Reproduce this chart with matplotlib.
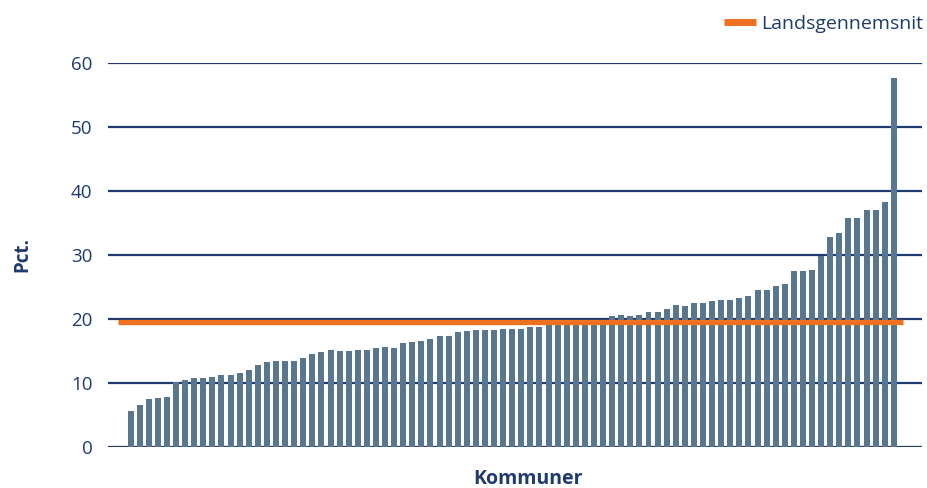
import matplotlib.pyplot as plt
import numpy as np

# share per municipality (pct.), sorted ascending
values = [5.6, 6.6, 7.5, 7.7, 7.8, 10.2, 10.5, 10.8, 10.8, 10.9, 11.25,
          11.25, 11.6, 12.0, 12.8, 13.3, 13.4, 13.4, 13.4, 13.9, 14.5, 14.8,
          15.2, 15.0, 15.0, 15.2, 15.2, 15.5, 15.6, 15.5, 16.25, 16.4, 16.6,
          16.9, 17.3, 17.3, 18.0, 18.1, 18.3, 18.3, 18.3, 18.4, 18.4, 18.4,
          18.75, 18.75, 19.2, 19.3, 19.1, 19.1, 19.3, 19.1, 19.3, 20.5, 20.6,
          20.5, 20.6, 21.1, 21.1, 21.6, 22.2, 22.0, 22.5, 22.5, 22.8, 23.0,
          23.0, 23.3, 23.6, 24.5, 24.5, 25.2, 25.5, 27.5, 27.5, 27.7, 29.8,
          32.8, 33.4, 35.8, 35.8, 37.0, 37.0, 38.3, 57.7]
national_avg = 19.6
yticks = [0, 10, 20, 30, 40, 50, 60]

navy = "#1f3a6e"
bar_col = "#58768e"
orange = "#f07022"

plt.rcParams['font.family'] = ['Open Sans', 'DejaVu Sans']

fig = plt.figure(figsize=(9.28, 4.88), dpi=100)
ax = fig.add_axes([0.116, 0.084, 0.8775, 0.787])

x = np.arange(len(values))
for t in yticks:
    ax.axhline(t, color=navy, lw=1.6, zorder=1)
ax.bar(x, values, width=0.66, color=bar_col, zorder=2)
ax.plot([-1.4, len(values)], [national_avg, national_avg], color=orange,
        lw=3.8, solid_capstyle='butt', zorder=3, label="Landsgennemsnit")

ax.set_xlim(-2.53, 87.1)
ax.set_ylim(0, 60)
ax.set_yticks(yticks)
ax.set_xticks([])
ax.tick_params(axis='y', length=0, pad=11, labelsize=13.5, labelcolor=navy)
for s in ax.spines.values():
    s.set_visible(False)

ax.set_ylabel("Pct.", color=navy, fontsize=13.5, fontweight='bold', labelpad=28)
ax.set_xlabel("Kommuner", color=navy, fontsize=14, fontweight='bold')
ax.xaxis.set_label_coords(0.516, -0.056)

leg = fig.legend(loc='upper right', bbox_to_anchor=(1.014, 1.005), frameon=False,
                 fontsize=14, handlelength=1.65, handletextpad=0.3, labelcolor=navy)
for h in leg.get_lines():
    h.set_linewidth(5)

fig.savefig("out.png", dpi=100)
